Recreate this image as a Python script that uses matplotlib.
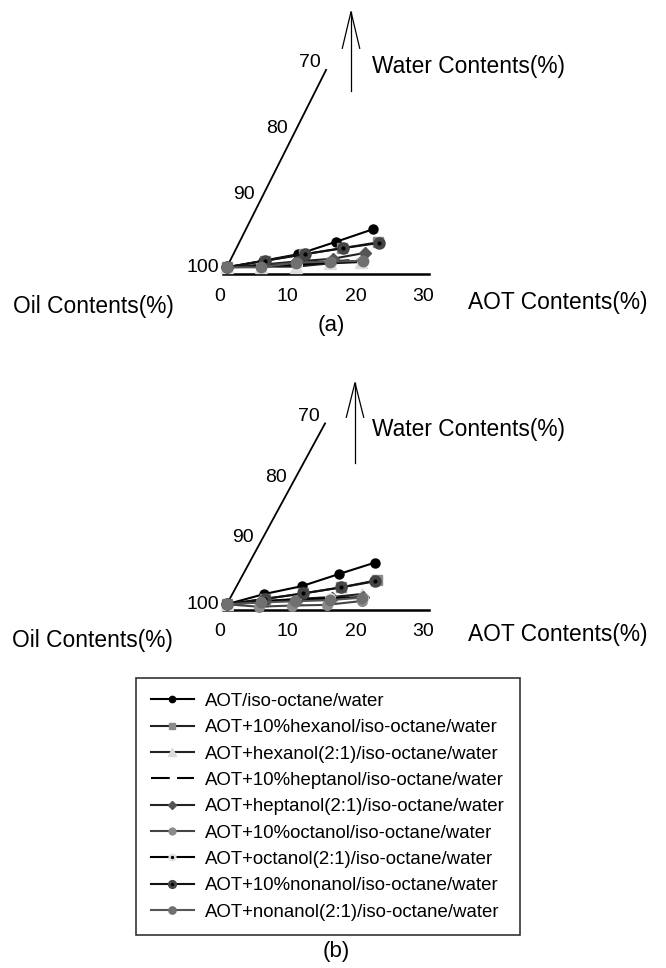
import numpy as np
import matplotlib.pyplot as plt

plt.rcParams['font.family'] = ['Liberation Sans', 'DejaVu Sans']

# series names (legend)
labels = ['AOT/iso-octane/water',
          'AOT+10%hexanol/iso-octane/water',
          'AOT+hexanol(2:1)/iso-octane/water',
          'AOT+10%heptanol/iso-octane/water',
          'AOT+heptanol(2:1)/iso-octane/water',
          'AOT+10%octanol/iso-octane/water',
          'AOT+octanol(2:1)/iso-octane/water',
          'AOT+10%nonanol/iso-octane/water',
          'AOT+nonanol(2:1)/iso-octane/water']

# panel (a): AOT content (%) and water content (%) of each point
aot_a = [[1, 5.9, 10.6, 15.3, 19.8],
         [1, 6.1, 11.5, 16.6, 21.5],
         [1, 6.0, 11.2, 16.0, 20.5],
         [1, 6.0, 11.0, 16.0, 20.6],
         [1, 6.0, 11.0, 16.0, 20.4],
         [1, 6.1, 11.1, 16.0, 20.6],
         [1, 6.0, 11.2, 15.9, 20.5],
         [1, 6.2, 11.6, 16.7, 21.7],
         [1, 6.0, 10.9, 15.8, 20.7]]
water_a = [[100, 99.0, 98.0, 96.1, 94.2],
           [100, 99.0, 98.0, 97.1, 96.2],
           [100, 99.9, 99.9, 99.4, 99.2],
           [100, 99.7, 99.4, 99.1, 98.8],
           [100, 99.6, 99.1, 98.7, 97.8],
           [100, 99.7, 99.4, 99.2, 99.1],
           [100, 99.8, 99.6, 99.3, 99.1],
           [100, 99.0, 98.0, 97.1, 96.3],
           [100, 100.0, 99.3, 99.15, 99.0]]

# panel (b)
aot_b = [[1, 5.7, 10.6, 15.1, 19.5],
         [1, 6.2, 11.4, 16.5, 21.3],
         [1, 6.0, 11.0, 15.9, 20.1],
         [1, 6.0, 11.0, 16.0, 20.7],
         [1, 6.0, 11.0, 16.0, 20.5],
         [1, 5.9, 10.8, 15.8, 20.7],
         [1, 5.9, 10.9, 15.7, 20.6],
         [1, 6.2, 11.4, 16.5, 21.0],
         [1, 5.9, 10.9, 15.9, 20.4]]
water_b = [[100, 98.3, 97.0, 95.0, 93.1],
           [100, 99.1, 98.2, 97.2, 96.0],
           [100, 99.5, 99.1, 98.8, 98.3],
           [100, 99.6, 99.3, 99.0, 98.7],
           [100, 99.6, 99.3, 99.0, 98.8],
           [100, 100.4, 100.2, 100.1, 99.45],
           [100, 99.5, 99.2, 99.0, 98.9],
           [100, 99.1, 98.2, 97.2, 96.2],
           [100, 99.7, 99.5, 99.3, 98.9]]

aot_ticks = [0, 10, 20, 30]
water_ticks = [100, 90, 80, 70]

# styles
markers = ['o', 's', '^', 'o', 'D', 'o', 'o', 'o', 'o']
mcolors = ['black', '#8c8c8c', '#dcdcdc', 'white', '#555555',
           '#8a8a8a', '#e4e4e4', '#454545', '#707070']
lcolors = ['black', '#222222', '#222222', 'black', '#222222',
           '#444444', 'black', '#111111', '#555555']
msizes = [6.5, 6.5, 8.5, 3, 6, 7, 7, 8, 7.5]
lstyles = ['-', '-', '-', (0, (9, 3.5)), '-', '-', '-', '-', '-']
center_dot = [False, False, False, False, False, False, True, True, False]

W, H = 666, 968
SX = 6.77          # px per AOT %
X0PX = 220         # px of AOT = 0


def draw_panel(ax, aot, water, top_px, bot_px, y0_px, sy, shear):
    ax.set_xlim(-X0PX / SX, (W - X0PX) / SX)
    ax.set_ylim((y0_px - bot_px) / sy, (y0_px - top_px) / sy)
    ax.axis('off')
    handles = []
    for i in range(len(aot)):
        u = 100 - np.array(water[i])
        x = np.array(aot[i]) + shear * u
        ln, = ax.plot(x, u, color=lcolors[i], lw=1.5, ls=lstyles[i],
                      marker=markers[i], ms=msizes[i], mfc=mcolors[i],
                      mec=mcolors[i], zorder=3 + i * 0.1)
        h = ln
        if center_dot[i]:
            dot, = ax.plot(x, u, ls='none', marker='o', ms=2, color='black',
                           zorder=3.05 + i * 0.1)
            h = (ln, dot)
        handles.append(h)
    # AOT axis
    ax.plot([0.5, 30.8], [-1, -1], color='black', lw=1.8, zorder=2)
    for t in aot_ticks:
        ax.text(t, -4.5, str(t), ha='center', va='center', fontsize=14)
    # water axis (slanted)
    umax = 100 - min(water_ticks)
    ax.plot([1, 1 + shear * umax], [0, umax], color='black', lw=1.3, zorder=2)
    for t in water_ticks:
        u = 100 - t
        if t == 100:
            ax.text(-0.2, -0.1, str(t), ha='right', va='center', fontsize=14)
        else:
            ax.text(1 + shear * u - 0.8, u + 1.1, str(t), ha='right',
                    va='center', fontsize=14)
    return handles


fig = plt.figure(figsize=(W / 100, H / 100), dpi=100)

ax_a = fig.add_axes([0, 1 - 335 / H, 1, 335 / H])
draw_panel(ax_a, aot_a, water_a, 0, 335, 267.3, 6.58, 0.489)
ax_b = fig.add_axes([0, 1 - 670 / H, 1, 335 / H])
handles = draw_panel(ax_b, aot_b, water_b, 335, 670, 604.3, 6.03, 0.484)


def px(ax, xp, yp):
    # pixel position -> data coordinates of ax
    inv = ax.transData.inverted()
    return inv.transform((xp, H - yp))


for ax, arrow_x, tip, bottom, head, label_y in [
        (ax_a, 351, 11.7, 90.7, 48.3, 67.0),
        (ax_b, 355, 382.7, 463.3, 417.3, 429.3)]:
    p_tip = px(ax, arrow_x, tip)
    p_bot = px(ax, arrow_x, bottom)
    p_hl = px(ax, arrow_x - 8.7, head)
    p_hr = px(ax, arrow_x + 8.7, head)
    ax.plot([p_bot[0], p_tip[0]], [p_bot[1], p_tip[1]], color='black', lw=0.9)
    ax.plot([p_hl[0], p_tip[0], p_hr[0]], [p_hl[1], p_tip[1], p_hr[1]],
            color='black', lw=0.9)
    p = px(ax, 372, label_y)
    ax.text(p[0], p[1], 'Water Contents(%)', ha='left', va='center',
            fontsize=16.4)

fig.text(13 / W, 1 - 307 / H, 'Oil Contents(%)', ha='left', va='center', fontsize=16.4)
fig.text(468 / W, 1 - 302 / H, 'AOT Contents(%)', ha='left', va='center', fontsize=16.4)
fig.text(12 / W, 1 - 640 / H, 'Oil Contents(%)', ha='left', va='center', fontsize=16.4)
fig.text(468 / W, 1 - 635 / H, 'AOT Contents(%)', ha='left', va='center', fontsize=16.4)
fig.text(331 / W, 1 - 325 / H, '(a)', ha='center', va='center', fontsize=16)
fig.text(336 / W, 1 - 951 / H, '(b)', ha='center', va='center', fontsize=16)

leg = fig.legend(handles, labels, loc='upper left',
                 bbox_to_anchor=(136 / W, 1 - 678 / H), bbox_transform=fig.transFigure,
                 fontsize=13.4, frameon=True, fancybox=False, edgecolor='black',
                 borderaxespad=0, handlelength=2.3, handletextpad=0.6,
                 labelspacing=0.5, borderpad=0.8, markerscale=0.7)
leg.get_frame().set_linewidth(1.2)

fig.savefig('out.png', dpi=100)
